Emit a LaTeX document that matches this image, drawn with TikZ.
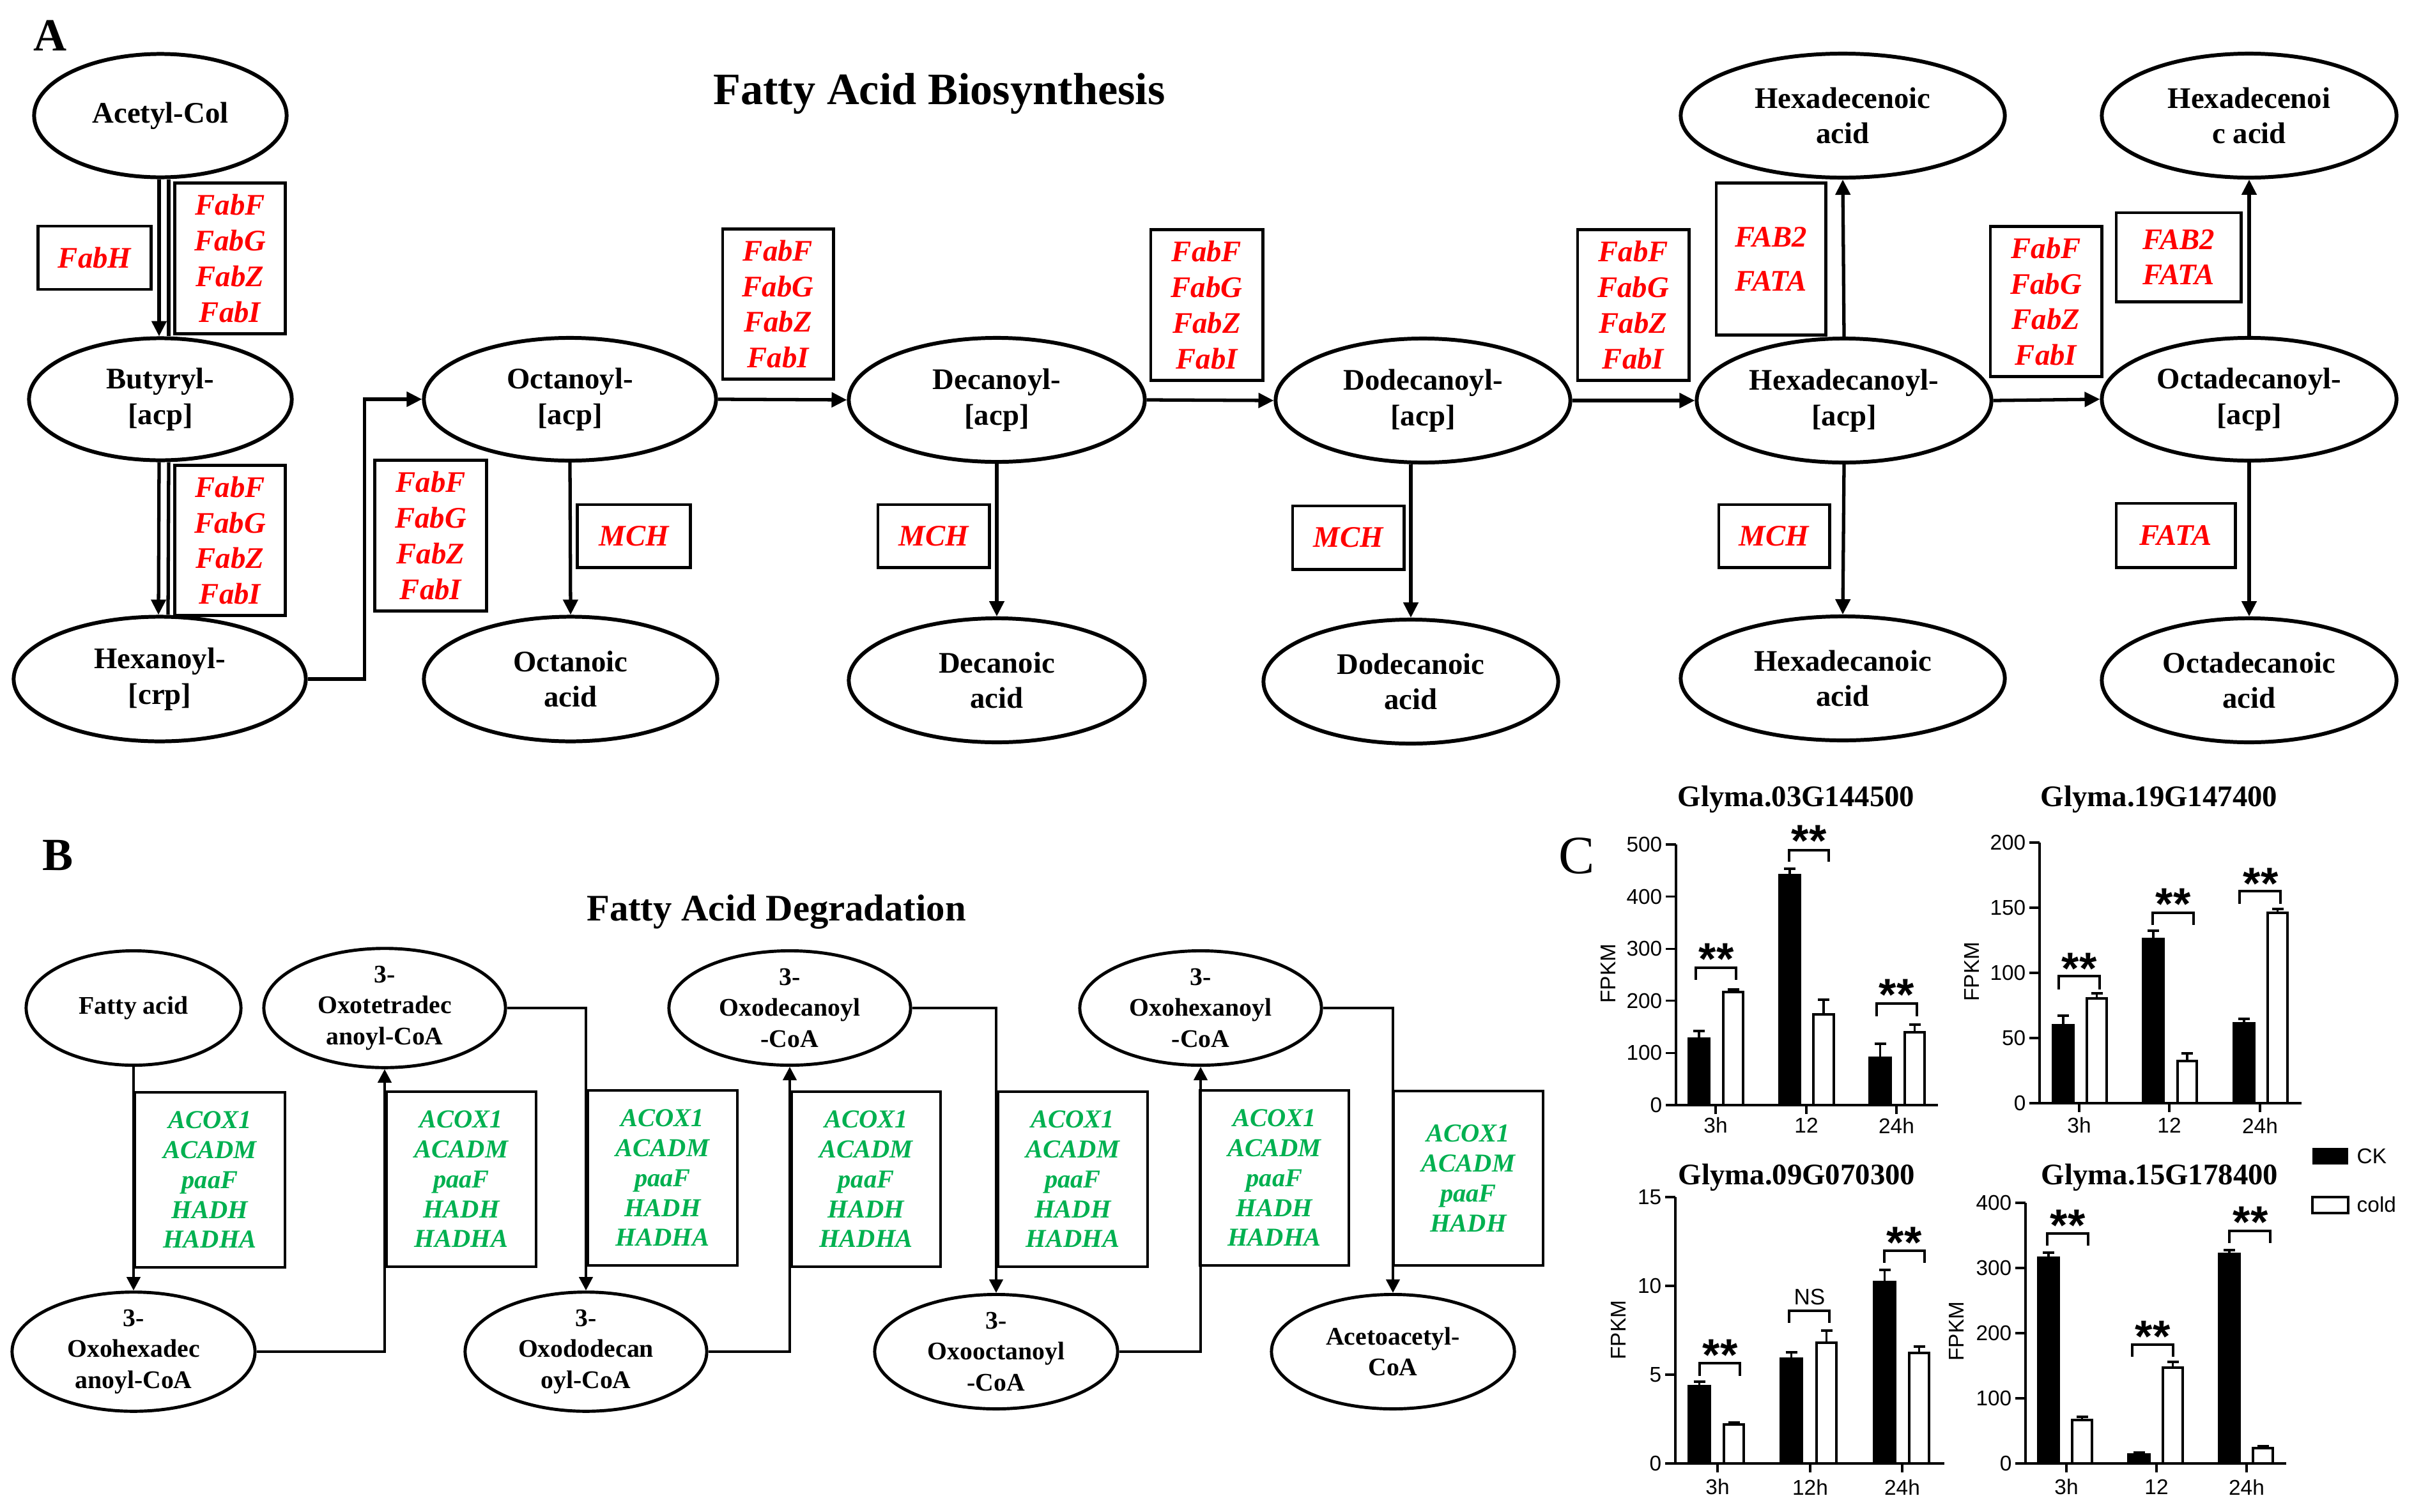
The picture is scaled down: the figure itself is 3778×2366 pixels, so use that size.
\documentclass[tikz,border=0pt]{standalone}
\usepackage{fontspec}
\setmainfont{Liberation Serif}
\setsansfont{Liberation Sans}
\usetikzlibrary{shapes.geometric,arrows.meta,calc}
\definecolor{genered}{RGB}{255,0,0}
\definecolor{genegreen}{RGB}{0,176,80}
\tikzset{
  ellA/.style 2 args={ellipse, draw, line width=1.7pt, inner sep=0pt, minimum width=#1 cm, minimum height=#2 cm, align=center, font=\fontsize{13.3}{15.8}\selectfont\bfseries},
  ellB/.style 2 args={ellipse, draw, line width=1.4pt, inner sep=0pt, minimum width=#1 cm, minimum height=#2 cm, align=center, font=\fontsize{11.3}{13.8}\selectfont\bfseries},
  boxA/.style 2 args={rectangle, draw, line width=1.4pt, inner sep=0pt, minimum width=#1 cm, minimum height=#2 cm, align=center, text=genered, font=\fontsize{13.3}{15.9}\selectfont\bfseries\itshape},
  boxB/.style 2 args={rectangle, draw, line width=1.3pt, inner sep=0pt, minimum width=#1 cm, minimum height=#2 cm, align=center, text=genegreen, font=\fontsize{11.5}{13.3}\selectfont\bfseries\itshape},
  arrA/.style={line width=1.5pt, -{Triangle[length=6.8pt,width=6.5pt]}},
  lineA/.style={line width=1.5pt},
  arrB/.style={line width=1.2pt, -{Triangle[length=6pt,width=6pt]}},
  panel/.style={font=\fontsize{20.5}{22}\selectfont\bfseries, inner sep=0pt},
  ptitle/.style={font=\fontsize{20}{22}\selectfont\bfseries, inner sep=0pt, anchor=base},
  ptitleB/.style={font=\fontsize{16.7}{18}\selectfont\bfseries, inner sep=0pt, anchor=base},
  ctitle/.style={font=\fontsize{13.3}{15}\selectfont\bfseries, inner sep=0pt, anchor=base},
  axisl/.style={line width=0.95pt},
  ckbar/.style={fill=black, draw=black, line width=0.95pt},
  coldbar/.style={fill=white, draw=black, line width=1pt},
  errl/.style={line width=0.95pt},
  brk/.style={line width=0.95pt},
  ticklab/.style={font=\sffamily\fontsize{9.5}{10}\selectfont, inner sep=0pt},
  stars/.style={font=\sffamily\bfseries\fontsize{20}{20}\selectfont, inner sep=0pt, anchor=base},
}
\newcommand\mybar[5]{%
  \draw[#1] (#2,\yz) rectangle (#3,#4);
  \draw[errl] ({(#2+#3)/2},#4) -- ({(#2+#3)/2},#5);
  \draw[errl] ({(#2+#3)/2-9},#5) -- ({(#2+#3)/2+9},#5);}
\newcommand\mybrk[4]{\draw[brk] (#1,#4) -- (#1,#3) -- (#2,#3) -- (#2,#4);}
\newcommand\mystars[2]{\node[stars] at (#1,{#2+33}) {**};}
\begin{document}
\begin{tikzpicture}[x=0.01cm, y=-0.01cm]
\useasboundingbox (0,0) rectangle (3778,2366);
\fill[white] (0,0) rectangle (3778,2366);

% ---------------- Panel A ----------------
\node[panel] (labA) at (79,56) {A};
\node[ptitle] (titA) at (1470,163) {Fatty Acid Biosynthesis};

\node[ellA={3.95}{1.93}] (acetyl) at (251,181) {Acetyl-Col};
\node[ellA={4.11}{1.91}] (butyryl) at (251,625) {Butyryl-\\{[acp]}};
\node[ellA={4.57}{1.95}] (hexanoyl) at (250,1063) {Hexanoyl-\\{[crp]}};
\node[ellA={4.57}{1.92}] (octanoyl) at (892,625) {Octanoyl-\\{[acp]}};
\node[ellA={4.59}{1.95}] (octanoic) at (893,1063) {Octanoic\\acid};
\node[ellA={4.63}{1.94}] (decanoyl) at (1560,626) {Decanoyl-\\{[acp]}};
\node[ellA={4.63}{1.94}] (decanoic) at (1560,1065) {Decanoic\\acid};
\node[ellA={4.61}{1.94}] (dodecanoyl) at (2227,627) {Dodecanoyl-\\{[acp]}};
\node[ellA={4.61}{1.94}] (dodecanoic) at (2208,1067) {Dodecanoic\\acid};
\node[ellA={4.61}{1.94}] (hexadecanoyl) at (2886,627) {Hexadecanoyl-\\{[acp]}};
\node[ellA={5.07}{1.94}] (hexadecenoic) at (2884,181) {Hexadecenoic\\acid};
\node[ellA={5.07}{1.94}] (hexadecanoic) at (2884,1062) {Hexadecanoic\\acid};
\node[ellA={4.61}{1.92}] (octadecanoyl) at (3520,625) {Octadecanoyl-\\{[acp]}};
\node[ellA={4.61}{1.94}] (hexadecenoicB) at (3520,181) {Hexadecenoi\\c acid};
\node[ellA={4.61}{1.94}] (octadecanoic) at (3520,1065) {Octadecanoic\\acid};

\node[boxA={1.76}{0.99}] (fabh) at (148,403.5) {FabH};
\node[boxA={1.72}{2.35}] (fab1) at (360,404.5) {FabF\\FabG\\FabZ\\FabI};
\node[boxA={1.72}{2.34}] (fab2) at (360,846) {FabF\\FabG\\FabZ\\FabI};
\node[boxA={1.74}{2.35}] (fab3) at (674,838.5) {FabF\\FabG\\FabZ\\FabI};
\node[boxA={1.76}{0.98}] (mch1) at (992,839) {MCH};
\node[boxA={1.73}{2.34}] (fab4) at (1217.5,476) {FabF\\FabG\\FabZ\\FabI};
\node[boxA={1.74}{0.98}] (mch2) at (1461,839) {MCH};
\node[boxA={1.75}{2.35}] (fab5) at (1888.5,477.5) {FabF\\FabG\\FabZ\\FabI};
\node[boxA={1.74}{0.99}] (mch3) at (2110,841.5) {MCH};
\node[boxA={1.74}{2.35}] (fab6) at (2556,477.5) {FabF\\FabG\\FabZ\\FabI};
\node[boxA={1.71}{2.37}] (fata1) at (2771.5,405.5) {FAB2\\[3.7pt]FATA};
\node[boxA={1.73}{0.98}] (mch4) at (2776.5,839) {MCH};
\node[boxA={1.74}{2.34}] (fab7) at (3202,472) {FabF\\FabG\\FabZ\\FabI};
\node[boxA={1.95}{1.39}] (fata2) at (3409.5,402.5) {FAB2\\FATA};
\node[boxA={1.86}{1.00}] (fata3) at (3405,838) {FATA};

\draw[arrA] ([xshift=-0.02cm]acetyl.south) -- ([xshift=-0.02cm]butyryl.north);
\draw[lineA] ([xshift=0.13cm]acetyl.south) -- ([xshift=0.13cm]butyryl.north);
\draw[arrA] ([xshift=-0.02cm]butyryl.south) -- ([xshift=-0.02cm]hexanoyl.north);
\draw[lineA] ([xshift=0.13cm]butyryl.south) -- ([xshift=0.13cm]hexanoyl.north);
\draw[arrA] (hexanoyl.east) -- ++(89,0) |- (octanoyl.west);
\draw[arrA] (octanoyl.south) -- (octanoic.north);
\draw[arrA] (octanoyl.east) -- (decanoyl.west);
\draw[arrA] (decanoyl.south) -- (decanoic.north);
\draw[arrA] (decanoyl.east) -- (dodecanoyl.west);
\draw[arrA] (dodecanoyl.south -| dodecanoic.north) -- (dodecanoic.north);
\draw[arrA] (dodecanoyl.east) -- (hexadecanoyl.west);
\draw[arrA] (hexadecanoyl.north) -- (hexadecenoic.south);
\draw[arrA] (hexadecanoyl.south) -- (hexadecanoic.north);
\draw[arrA] (hexadecanoyl.east) -- (octadecanoyl.west);
\draw[arrA] (octadecanoyl.north) -- (hexadecenoicB.south);
\draw[arrA] (octadecanoyl.south) -- (octadecanoic.north);

% ---------------- Panel B ----------------
\node[panel] (labB) at (91,1339) {B};
\node[ptitleB] (titB) at (1215,1441) {Fatty Acid Degradation};

\node[ellB={3.36}{1.79}] (fa) at (209,1578) {Fatty acid};
\node[ellB={3.78}{1.79}] (tetra) at (602,1578) {3-\\Oxotetradec\\anoyl-CoA};
\node[ellB={3.78}{1.79}] (deca) at (1236,1578) {3-\\Oxodecanoyl\\-CoA};
\node[ellB={3.78}{1.79}] (hexa) at (1879,1578) {3-\\Oxohexanoyl\\-CoA};
\node[ellB={3.80}{1.79}] (hexadec) at (209,2116) {3-\\Oxohexadec\\anoyl-CoA};
\node[ellB={3.78}{1.79}] (dodec) at (917,2116) {3-\\Oxododecan\\oyl-CoA};
\node[ellB={3.80}{1.79}] (octa) at (1559,2116) {3-\\Oxooctanoyl\\-CoA};
\node[ellB={3.80}{1.79}] (aceto) at (2180,2116) {Acetoacetyl-\\CoA};

\node[boxB={2.35}{2.74}] (g1) at (328.5,1847) {ACOX1\\ACADM\\paaF\\HADH\\HADHA};
\node[boxB={2.34}{2.74}] (g2) at (722,1846) {ACOX1\\ACADM\\paaF\\HADH\\HADHA};
\node[boxB={2.34}{2.74}] (g3) at (1037,1844) {ACOX1\\ACADM\\paaF\\HADH\\HADHA};
\node[boxB={2.33}{2.74}] (g4) at (1355.5,1846) {ACOX1\\ACADM\\paaF\\HADH\\HADHA};
\node[boxB={2.34}{2.74}] (g5) at (1679,1846) {ACOX1\\ACADM\\paaF\\HADH\\HADHA};
\node[boxB={2.33}{2.74}] (g6) at (1994.5,1844) {ACOX1\\ACADM\\paaF\\HADH\\HADHA};
\node[boxB={2.34}{2.73}] (g7) at (2298,1844.5) {ACOX1\\ACADM\\paaF\\HADH};

\draw[arrB] (fa.south) -- (hexadec.north);
\draw[arrB] (hexadec.east) -| (tetra.south);
\draw[arrB] (tetra.east) -| (dodec.north);
\draw[arrB] (dodec.east) -| (deca.south);
\draw[arrB] (deca.east) -| (octa.north);
\draw[arrB] (octa.east) -| (hexa.south);
\draw[arrB] (hexa.east) -| (aceto.north);

% ---------------- Panel C ----------------
\node[font=\fontsize{24}{26}\selectfont, inner sep=0pt] (labC) at (2468,1340) {C};

% chart 1
\node[ctitle] (t1) at (2811,1262) {Glyma.03G144500};
\def\yz{1730}
\draw[axisl] (2623,1322) -- (2623,1730);
\draw[axisl] (2607,1730) -- (3033,1730);
\foreach \k/\lab in {0/0,1/100,2/200,3/300,4/400,5/500}{
  \draw[axisl] (2607,{1730-\k*81.6}) -- (2623,{1730-\k*81.6});
  \node[ticklab, anchor=east] at (2602,{1730-\k*81.6}) {\lab};}
\foreach \xx/\lab in {2685/3h,2827/12,2968/24h}{
  \draw[axisl] (\xx,1730) -- (\xx,1744);
  \node[ticklab] at (\xx,1762) {\lab};}
\node[ticklab, rotate=90] at (2517,1524) {FPKM};
\mybar{ckbar}{2643}{2675}{1626}{1614}
\mybar{coldbar}{2697}{2728}{1553}{1549}
\mybar{ckbar}{2785}{2817}{1370}{1360}
\mybar{coldbar}{2838}{2870}{1588}{1565}
\mybar{ckbar}{2926}{2959}{1656}{1634}
\mybar{coldbar}{2981}{3012}{1616}{1604}
\mybrk{2654}{2717}{1515}{1534}
\mybrk{2800}{2862}{1331}{1349}
\mybrk{2937}{3000}{1571}{1591}
\mystars{2686}{1492}
\mystars{2831}{1307}
\mystars{2968}{1548}

% chart 2
\node[ctitle] (t2) at (3379,1262) {Glyma.19G147400};
\def\yz{1727}
\draw[axisl] (3192,1319) -- (3192,1727);
\draw[axisl] (3176,1727) -- (3602,1727);
\foreach \k/\lab in {0/0,1/50,2/100,3/150,4/200}{
  \draw[axisl] (3176,{1727-\k*102}) -- (3192,{1727-\k*102});
  \node[ticklab, anchor=east] at (3171,{1727-\k*102}) {\lab};}
\foreach \xx/\lab in {3254/3h,3395/12,3537/24h}{
  \draw[axisl] (\xx,1727) -- (\xx,1741);
  \node[ticklab] at (\xx,1762) {\lab};}
\node[ticklab, rotate=90] at (3086,1521) {FPKM};
\mybar{ckbar}{3213}{3245}{1605}{1590}
\mybar{coldbar}{3266}{3297}{1563}{1555}
\mybar{ckbar}{3354}{3386}{1470}{1457}
\mybar{coldbar}{3408}{3438}{1661}{1649}
\mybar{ckbar}{3496}{3528}{1602}{1595}
\mybar{coldbar}{3549}{3580}{1429}{1423}
\mybrk{3222}{3286}{1528}{1549}
\mybrk{3369}{3433}{1429}{1448}
\mybrk{3505}{3569}{1395}{1415}
\mystars{3254}{1507}
\mystars{3401}{1406}
\mystars{3538}{1374}

% chart 3
\node[ctitle] (t3) at (2812,1854) {Glyma.09G070300};
\def\yz{2291}
\draw[axisl] (2622,1874) -- (2622,2291);
\draw[axisl] (2606,2291) -- (3043,2291);
\foreach \k/\lab in {0/0,1/5,2/10,3/15}{
  \draw[axisl] (2606,{2291-\k*139}) -- (2622,{2291-\k*139});
  \node[ticklab, anchor=east] at (2601,{2291-\k*139}) {\lab};}
\foreach \xx/\lab in {2688/3h,2833/12h,2977/24h}{
  \draw[axisl] (\xx,2291) -- (\xx,2305);
  \node[ticklab] at (\xx,2328) {\lab};}
\node[ticklab, rotate=90] at (2533,2082) {FPKM};
\mybar{ckbar}{2643}{2676}{2170}{2163}
\mybar{coldbar}{2698}{2729}{2230}{2227}
\mybar{ckbar}{2787}{2820}{2127}{2117}
\mybar{coldbar}{2843}{2874}{2102}{2083}
\mybar{ckbar}{2933}{2966}{2007}{1988}
\mybar{coldbar}{2988}{3019}{2118}{2108}
\mybrk{2660}{2723}{2134}{2154}
\mybrk{2800}{2863}{2052}{2071}
\mybrk{2949}{3012}{1958}{1977}
\mystars{2692}{2112}
\node[ticklab, font=\sffamily\fontsize{10}{10}\selectfont] at (2832,2030) {NS};
\mystars{2980}{1936}

% chart 4
\node[ctitle] (t4) at (3380,1854) {Glyma.15G178400};
\def\yz{2291}
\draw[axisl] (3170,1883) -- (3170,2291);
\draw[axisl] (3154,2291) -- (3578,2291);
\foreach \k/\lab in {0/0,1/100,2/200,3/300,4/400}{
  \draw[axisl] (3154,{2291-\k*102}) -- (3170,{2291-\k*102});
  \node[ticklab, anchor=east] at (3149,{2291-\k*102}) {\lab};}
\foreach \xx/\lab in {3234/3h,3375/12,3516/24h}{
  \draw[axisl] (\xx,2291) -- (\xx,2305);
  \node[ticklab] at (\xx,2328) {\lab};}
\node[ticklab, rotate=90] at (3062,2084) {FPKM};
\mybar{ckbar}{3190}{3222}{1969}{1961}
\mybar{coldbar}{3243}{3274}{2223}{2218}
\mybar{ckbar}{3331}{3364}{2277}{2274}
\mybar{coldbar}{3385}{3416}{2141}{2132}
\mybar{ckbar}{3473}{3505}{1963}{1957}
\mybar{coldbar}{3526}{3557}{2267}{2264}
\mybrk{3204}{3268}{1931}{1950}
\mybrk{3337}{3401}{2105}{2124}
\mybrk{3489}{3553}{1927}{1946}
\mystars{3236}{1909}
\mystars{3369}{2083}
\mystars{3522}{1904}

% legend
\fill[black] (3619,1797) rectangle (3675,1823);
\draw[line width=1pt] (3619,1874) rectangle (3675,1899);
\node[ticklab, anchor=west] (lck) at (3688,1810) {CK};
\node[ticklab, anchor=west] (lcold) at (3688,1886) {cold};
\end{tikzpicture}
\end{document}
